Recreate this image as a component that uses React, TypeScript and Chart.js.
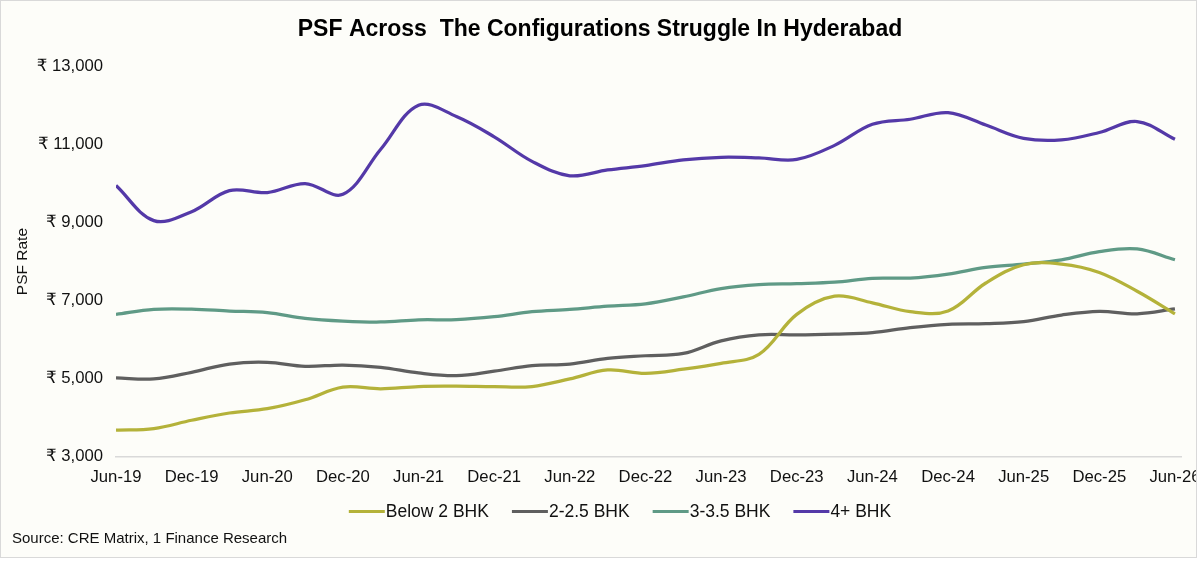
import React, { useEffect, useRef } from 'react';
import { Chart, registerables } from 'chart.js';

Chart.register(...registerables);

const FONT = '"Liberation Sans", Arial, "DejaVu Sans", sans-serif';

const chartTitle = 'PSF Across  The Configurations Struggle In Hyderabad';
const yAxisTitle = 'PSF Rate';
const sourceText = 'Source: CRE Matrix, 1 Finance Research';

const quarters = [
  'Jun-19', 'Sep-19', 'Dec-19', 'Mar-20', 'Jun-20', 'Sep-20', 'Dec-20', 'Mar-21',
  'Jun-21', 'Sep-21', 'Dec-21', 'Mar-22', 'Jun-22', 'Sep-22', 'Dec-22', 'Mar-23',
  'Jun-23', 'Sep-23', 'Dec-23', 'Mar-24', 'Jun-24', 'Sep-24', 'Dec-24', 'Mar-25',
  'Jun-25', 'Sep-25', 'Dec-25', 'Mar-26', 'Jun-26',
];

const xTickLabels = [
  'Jun-19', 'Dec-19', 'Jun-20', 'Dec-20', 'Jun-21', 'Dec-21', 'Jun-22', 'Dec-22',
  'Jun-23', 'Dec-23', 'Jun-24', 'Dec-24', 'Jun-25', 'Dec-25', 'Jun-26',
];

const yTickValues = [3000, 5000, 7000, 9000, 11000, 13000];

const seriesNames = ['Below 2 BHK', '2-2.5 BHK', '3-3.5 BHK', '4+ BHK'];

const below2Bhk = [
  3675, 3717, 3929, 4116, 4226, 4455, 4778, 4735, 4795, 4803, 4790, 4795, 4990, 5219, 5134,
  5240, 5390, 5620, 6645, 7111, 6942, 6713, 6730, 7450, 7918, 7935, 7720, 7238, 6660,
];

const bhk2to25 = [
  5015, 4990, 5160, 5372, 5414, 5312, 5346, 5287, 5143, 5075, 5190, 5330, 5372, 5516, 5584,
  5643, 5966, 6119, 6119, 6140, 6178, 6306, 6390, 6407, 6458, 6628, 6725, 6660, 6785,
];

const bhk3to35 = [
  6645, 6775, 6780, 6730, 6690, 6545, 6475, 6450, 6505, 6510, 6585, 6713, 6772, 6857, 6916,
  7094, 7307, 7409, 7434, 7470, 7570, 7578, 7680, 7850, 7935, 8045, 8257, 8325, 8045,
];

const bhk4Plus = [
  9950, 9050, 9280, 9820, 9770, 10000, 9725, 10880, 12010, 11720, 11200, 10570, 10200, 10350,
  10460, 10610, 10675, 10660, 10620, 10980, 11520, 11650, 11820, 11500, 11160, 11120, 11310,
  11590, 11135,
];

const seriesValues = [below2Bhk, bhk2to25, bhk3to35, bhk4Plus];
const seriesColors = ['#B4B23A', '#5F5F5F', '#5F9A86', '#5439A8'];

const bottomLegendPlugin = {
  id: 'bottomLegend',
  afterDraw(chart: any, _args: any, opts: any) {
    const ctx = chart.ctx as CanvasRenderingContext2D;
    ctx.save();
    ctx.font = `${opts.fontSize}px ${FONT}`;
    ctx.textBaseline = 'middle';
    ctx.textAlign = 'left';
    const items = chart.data.datasets.map((ds: any) => ({
      text: ds.label as string,
      color: ds.borderColor as string,
      w: ctx.measureText(ds.label).width,
    }));
    const total =
      items.reduce((a: number, it: any) => a + opts.lineLength + opts.textGap + it.w, 0) +
      opts.itemGap * (items.length - 1);
    let x = opts.centerX - total / 2;
    const y = opts.y;
    items.forEach((it: any) => {
      ctx.strokeStyle = it.color;
      ctx.lineWidth = opts.lineWidth;
      ctx.lineCap = 'butt';
      ctx.beginPath();
      ctx.moveTo(x, y);
      ctx.lineTo(x + opts.lineLength, y);
      ctx.stroke();
      x += opts.lineLength + opts.textGap;
      ctx.fillStyle = opts.color;
      ctx.fillText(it.text, x, y + 1);
      x += it.w + opts.itemGap;
    });
    ctx.font = `${opts.sourceFontSize}px ${FONT}`;
    ctx.fillStyle = opts.color;
    ctx.fillText(opts.source, opts.sourceX, opts.sourceY);
    ctx.restore();
  },
};

export default function App() {
  const canvasRef = useRef<HTMLCanvasElement | null>(null);

  useEffect(() => {
    document.body.style.margin = '0';
    const canvas = canvasRef.current;
    if (!canvas) return;
    const chart = new Chart(canvas, {
      type: 'line',
      data: {
        datasets: seriesNames.map((name, k) => ({
          label: name,
          data: seriesValues[k].map((v, i) => ({ x: i, y: v })),
          borderColor: seriesColors[k],
          backgroundColor: seriesColors[k],
          borderWidth: 3.25,
          pointRadius: 0,
          pointHoverRadius: 0,
          tension: 0.36,
          fill: false,
        })),
      },
      options: {
        animation: false,
        responsive: false,
        events: [],
        layout: { padding: { left: 3, right: 0, top: 0, bottom: 0 } },
        plugins: {
          legend: { display: false },
          tooltip: { enabled: false },
          title: {
            display: true,
            text: chartTitle,
            color: '#000000',
            font: { family: FONT, size: 23, weight: 'bold' },
            padding: { top: 15, bottom: 23 },
          },
          bottomLegend: {
            centerX: 619,
            y: 510.5,
            fontSize: 17.5,
            lineLength: 36,
            lineWidth: 3,
            textGap: 1,
            itemGap: 23,
            color: '#111111',
            source: sourceText,
            sourceFontSize: 15,
            sourceX: 11,
            sourceY: 538,
          },
        } as any,
        scales: {
          x: {
            type: 'linear',
            min: 0,
            max: 28.16,
            grid: { display: false, drawTicks: false },
            border: { display: true, color: '#D9D9D9', width: 1.5 },
            ticks: {
              color: '#111111',
              font: { family: FONT, size: 16.7 },
              padding: 11,
              maxRotation: 0,
              autoSkip: false,
              callback: (v: any) => quarters[Number(v)] ?? '',
            },
            afterBuildTicks: (s: any) => {
              s.ticks = xTickLabels.map((l) => ({ value: quarters.indexOf(l) }));
            },
            afterFit: (s: any) => {
              s.height = 100.5;
              s.paddingLeft = 0;
              s.paddingRight = 15;
            },
          },
          y: {
            type: 'linear',
            min: 3000,
            max: 13000,
            grid: { display: false, drawTicks: false },
            border: { display: false },
            ticks: {
              color: '#111111',
              font: { family: FONT, size: 16.7 },
              padding: 13,
              callback: (v: any) => '₹ ' + Number(v).toLocaleString('en-US'),
            },
            afterBuildTicks: (s: any) => {
              s.ticks = yTickValues.map((v) => ({ value: v }));
            },
            title: {
              display: true,
              text: yAxisTitle,
              color: '#111111',
              font: { family: FONT, size: 15.5 },
              padding: { top: 9, bottom: 0 },
            },
            afterFit: (s: any) => {
              s.width = 112;
            },
          },
        },
      },
      plugins: [bottomLegendPlugin],
    });
    return () => chart.destroy();
  }, []);

  return (
    <div
      style={{
        position: 'fixed',
        left: 0,
        top: 0,
        width: 1197,
        height: 558,
        boxSizing: 'border-box',
        border: '1px solid #D9D9D9',
        background: '#FDFDF9',
      }}
    >
      <canvas ref={canvasRef} width={1195} height={556} style={{ display: 'block' }} />
    </div>
  );
}
